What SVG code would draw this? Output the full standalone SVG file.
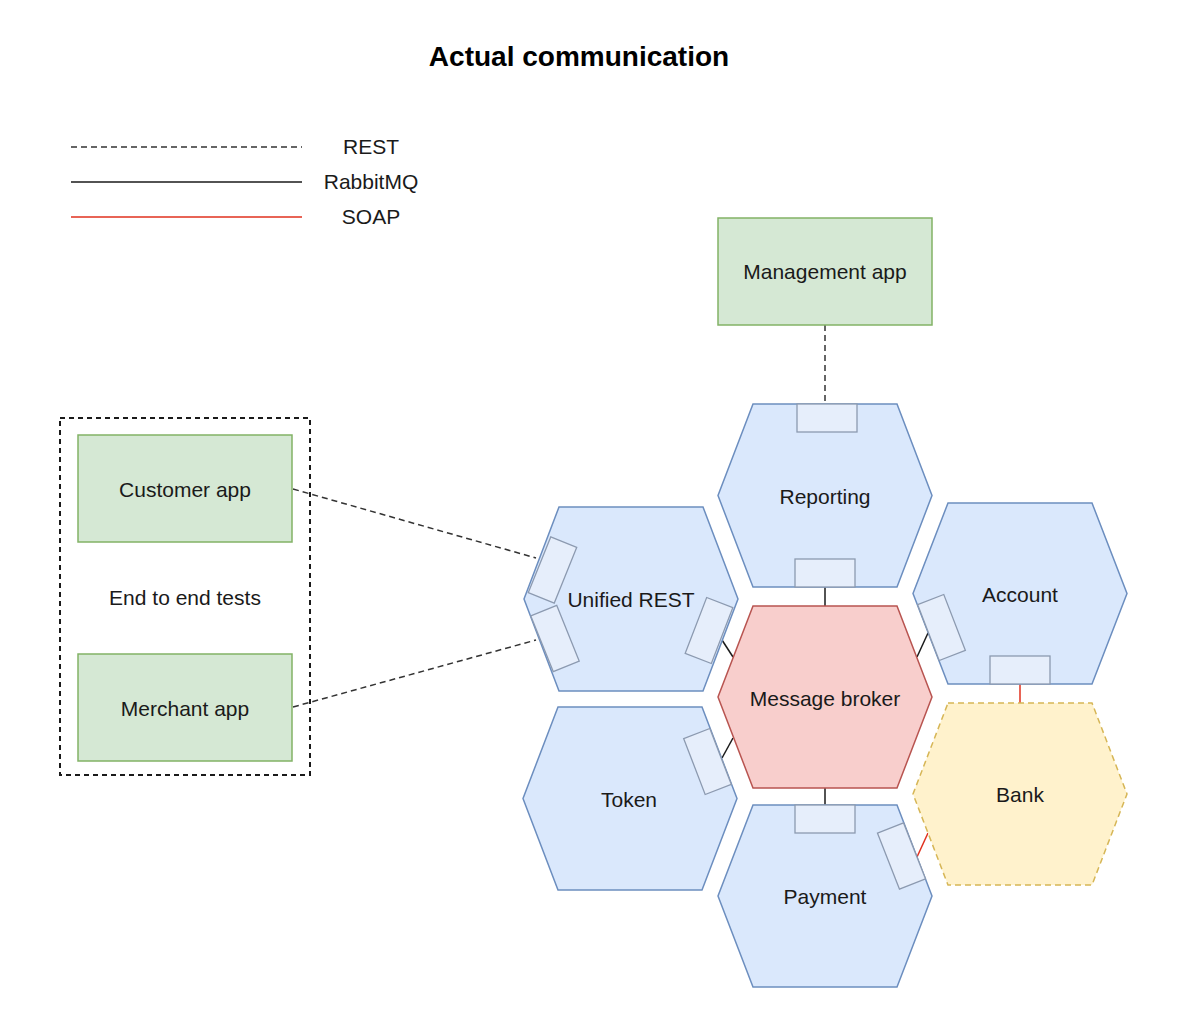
<svg xmlns="http://www.w3.org/2000/svg" width="1200" height="1014" viewBox="0 0 1200 1014">
<style>
text{font-family:"Liberation Sans",Arial,Helvetica,sans-serif;font-size:21px;fill:#1a1a1a;text-anchor:middle}
.title{font-size:28px;font-weight:bold;fill:#000}
.hex{fill:#dae8fc;stroke:#6c8ebf;stroke-width:1.5}
.broker{fill:#f8cecc;stroke:#b85450;stroke-width:1.5}
.bank{fill:#fff2cc;stroke:#d6b656;stroke-width:1.5;stroke-dasharray:6 4}
.app{fill:#d5e8d4;stroke:#82b366;stroke-width:1.5}
.port{fill:#e6eefb;stroke:#8c9ab0;stroke-width:1.3}
.rest{stroke:#333;stroke-width:1.5;stroke-dasharray:6 4;fill:none}
.rmq{stroke:#1a1a1a;stroke-width:1.5;fill:none}
.soap{stroke:#e0301e;stroke-width:1.5;fill:none}
</style>
<rect width="1200" height="1014" fill="#fff"/>
<text class="title" x="579" y="66">Actual communication</text>

<g id="legend">
<line class="rest" x1="71" y1="147" x2="302" y2="147"/>
<line class="rmq" x1="71" y1="182" x2="302" y2="182"/>
<line class="soap" x1="71" y1="217" x2="302" y2="217"/>
<text x="371" y="154">REST</text>
<text x="371" y="189">RabbitMQ</text>
<text x="371" y="224">SOAP</text>
</g>

<g id="connectors">
<line class="rest" x1="825" y1="325" x2="825" y2="404"/>
<line class="rest" x1="293" y1="489" x2="536" y2="558"/>
<line class="rest" x1="293" y1="707" x2="536" y2="640"/>
<line class="rmq" x1="825" y1="587" x2="825" y2="606"/>
<line class="rmq" x1="825" y1="788" x2="825" y2="805"/>
<line class="rmq" x1="722" y1="640" x2="733" y2="657"/>
<line class="rmq" x1="722" y1="758" x2="733" y2="738"/>
<line class="rmq" x1="928" y1="633" x2="917" y2="657"/>
<line class="soap" x1="1020" y1="684" x2="1020" y2="703"/>
<line class="soap" x1="917" y1="857" x2="928" y2="833"/>
</g>

<g id="e2e-group">
<rect x="60" y="418" width="250" height="357" fill="none" stroke="#1a1a1a" stroke-width="2" stroke-dasharray="5 4"/>
<text x="185" y="605">End to end tests</text>
</g>

<g id="customer-app">
<rect class="app" x="78" y="435" width="214" height="107"/>
<text x="185" y="497">Customer app</text>
</g>
<g id="merchant-app">
<rect class="app" x="78" y="654" width="214" height="107"/>
<text x="185" y="716">Merchant app</text>
</g>
<g id="management-app">
<rect class="app" x="718" y="218" width="214" height="107"/>
<text x="825" y="279">Management app</text>
</g>

<g id="reporting">
<polygon class="hex" points="753,404 897,404 932,495.5 897,587 753,587 718,495.5"/>
<rect class="port" x="797" y="404" width="60" height="28"/>
<rect class="port" x="795" y="559" width="60" height="28"/>
<text x="825" y="504">Reporting</text>
</g>

<g id="unified-rest">
<polygon class="hex" points="559,507 703,507 738,599 703,691 559,691 524,599"/>
<rect class="port" x="-30" y="-14" width="60" height="28" transform="translate(552.5,570) rotate(-68)"/>
<rect class="port" x="-30" y="-14" width="60" height="28" transform="translate(555,638.5) rotate(68)"/>
<rect class="port" x="-30" y="-14" width="60" height="28" transform="translate(709,630.5) rotate(-69)"/>
<text x="631" y="607">Unified REST</text>
</g>

<g id="message-broker">
<polygon class="broker" points="753,606 897,606 932,697 897,788 753,788 718,697"/>
<text x="825" y="706">Message broker</text>
</g>

<g id="account">
<polygon class="hex" points="948,503 1092,503 1127,593.5 1092,684 948,684 913,593.5"/>
<rect class="port" x="990" y="656" width="60" height="28"/>
<rect class="port" x="-30" y="-14" width="60" height="28" transform="translate(941.5,627.5) rotate(68.9)"/>
<text x="1020" y="602">Account</text>
</g>

<g id="token">
<polygon class="hex" points="558,707 702,707 737,798.5 702,890 558,890 523,798.5"/>
<rect class="port" x="-30" y="-14" width="60" height="28" transform="translate(707.5,761.5) rotate(69)"/>
<text x="629" y="807">Token</text>
</g>

<g id="bank">
<polygon class="bank" points="948,703 1092,703 1127,794 1092,885 948,885 913,794"/>
<text x="1020" y="802">Bank</text>
</g>

<g id="payment">
<polygon class="hex" points="753,805 897,805 932,896 897,987 753,987 718,896"/>
<rect class="port" x="795" y="805" width="60" height="28"/>
<rect class="port" x="-30" y="-14" width="60" height="28" transform="translate(901.5,856) rotate(68.5)"/>
<text x="825" y="904">Payment</text>
</g>
</svg>
